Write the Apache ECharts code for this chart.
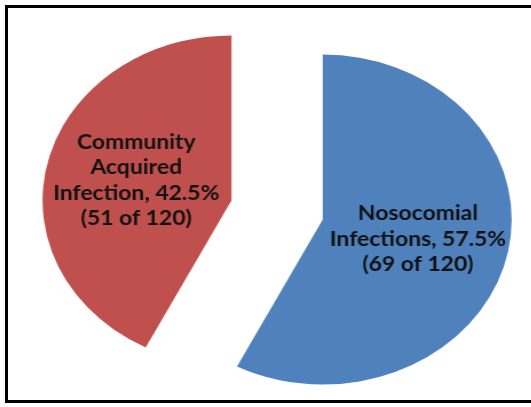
<!DOCTYPE html>
<html>
<head>
<meta charset="utf-8">
<script src="https://cdn.jsdelivr.net/npm/echarts@6/dist/echarts.min.js"></script>
<style>
  html, body { margin: 0; padding: 0; background: #fff; overflow: hidden; }
  #frame {
    position: absolute; left: 5px; top: 5px; width: 540px; height: 398px;
    border: 3px solid #000; box-sizing: border-box; background: #fff;
  }
  /* the pie is drawn slightly wide: a narrower canvas stretched horizontally */
  #chart {
    position: absolute; left: 0; top: 0; width: 464px; height: 407px;
    transform: scaleX(1.145); transform-origin: 0 0;
  }
</style>
</head>
<body>
<div id="frame"></div>
<div id="chart"></div>
<script>
// Infection source counts (of 120 patients)
const categories = ['Nosocomial\nInfections', 'Community\nAcquired\nInfection'];
const counts = [69, 51];
const sliceColors = ['#4F81BD', '#C0504D'];
const total = counts.reduce((a, b) => a + b, 0);

const chart = echarts.init(document.getElementById('chart'), null, { renderer: 'canvas' });

chart.setOption({
  animation: false,
  series: [{
    type: 'pie',
    center: [242, 210],
    radius: [0, 165],
    startAngle: 90,
    clockwise: true,
    selectedMode: 'multiple',
    selectedOffset: 41,
    avoidLabelOverlap: false,
    label: {
      show: true,
      position: 'inside',
      color: '#111',
      fontFamily: 'Lato',
      fontWeight: 'bold',
      fontSize: 20,
      lineHeight: 25.5,
      align: 'center',
      formatter: p => p.name + ', ' + (p.value / total * 100).toFixed(1) + '%\n(' + p.value + ' of ' + total + ')'
    },
    labelLine: { show: false },
    emphasis: { disabled: true },
    select: { itemStyle: { borderWidth: 0 } },
    itemStyle: { borderWidth: 0 },
    data: categories.map((name, i) => ({
      name: name,
      value: counts[i],
      selected: true,
      itemStyle: { color: sliceColors[i] }
    }))
  }]
});
</script>
</body>
</html>
